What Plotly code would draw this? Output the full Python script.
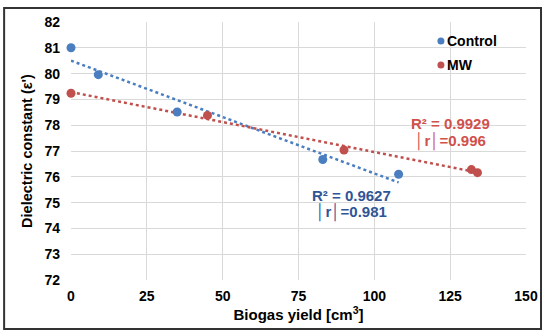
import numpy as np
import plotly.graph_objects as go

# Data
control_x = [0, 9, 35, 83, 108]
control_y = [81.0, 79.96, 78.51, 76.67, 76.10]
mw_x = [0, 45, 90, 132, 134]
mw_y = [79.24, 78.38, 77.04, 76.28, 76.16]

x_ticks = [0, 25, 50, 75, 100, 125, 150]
y_ticks = [72, 73, 74, 75, 76, 77, 78, 79, 80, 81, 82]

series_names = ["Control", "MW"]
control_label = ["R² = 0.9627", "\u2502r\u2502=0.981"]
mw_label = ["R² = 0.9929", "\u2502r\u2502=0.996"]

BLUE = "#4A7EC0"
RED = "#C0504D"
BLUE_TXT = "#2F5597"
RED_TXT = "#D0504C"
FONT = "Liberation Sans, Arial, sans-serif"


def trend(xs, ys):
    k, b = np.polyfit(xs, ys, 1)
    xx = np.array([min(xs), max(xs)], dtype=float)
    return xx, k * xx + b


fig = go.Figure()

cx, cy = trend(control_x, control_y)
mx, my = trend(mw_x, mw_y)

fig.add_trace(go.Scatter(x=cx, y=cy, mode="lines", showlegend=False,
                         line=dict(color=BLUE, width=2.5, dash="dot"), hoverinfo="skip"))
fig.add_trace(go.Scatter(x=mx, y=my, mode="lines", showlegend=False,
                         line=dict(color=RED, width=2.5, dash="dot"), hoverinfo="skip"))
fig.add_trace(go.Scatter(x=control_x, y=control_y, mode="markers", name=series_names[0],
                         showlegend=False, cliponaxis=False,
                         marker=dict(color=BLUE, size=9)))
fig.add_trace(go.Scatter(x=mw_x, y=mw_y, mode="markers", name=series_names[1],
                         showlegend=False, cliponaxis=False,
                         marker=dict(color=RED, size=9)))

# Regression annotations
for (txt, yv) in zip(control_label, [75.27, 74.62]):
    fig.add_annotation(x=92.6, y=yv, text="<b>%s</b>" % txt, showarrow=False,
                       font=dict(family=FONT, size=15, color=BLUE_TXT))
for (txt, yv) in zip(mw_label, [78.07, 77.38]):
    fig.add_annotation(x=125, y=yv, text="<b>%s</b>" % txt, showarrow=False,
                       font=dict(family=FONT, size=15, color=RED_TXT))

# Legend (marker + label), placed like the reference's
for name, col, py in zip(series_names, [BLUE, RED], [0.926, 0.833]):
    fig.add_shape(type="circle", xref="paper", yref="paper",
                  xsizemode="pixel", ysizemode="pixel",
                  xanchor=0.813, yanchor=py, x0=-3.5, x1=3.5, y0=-3.5, y1=3.5,
                  fillcolor=col, line=dict(width=0))
    fig.add_annotation(xref="paper", yref="paper", x=0.822, y=py, xanchor="left",
                       yanchor="middle", text="<b>%s</b>" % name, showarrow=False,
                       font=dict(family=FONT, size=14, color="#000000"))

# Outer frame
fig.add_shape(type="rect", xref="paper", yref="paper",
              x0=-0.147, x1=1.033, y0=-0.19, y1=1.054,
              line=dict(color="#333333", width=2), fillcolor="rgba(0,0,0,0)", layer="below")

fig.update_layout(
    width=550, height=336,
    margin=dict(l=71, r=24, t=22, b=56),
    paper_bgcolor="white", plot_bgcolor="white",
    font=dict(family=FONT, color="#000000"),
    showlegend=False,
    xaxis=dict(range=[0, 150], tickvals=x_ticks, showgrid=True, gridcolor="#D9D9D9",
               zeroline=False, showline=False, ticks="", ticklabelstandoff=6,
               tickfont=dict(family=FONT, size=14, weight="bold"),
               title=dict(text="<b>Biogas yield [cm<sup>3</sup>]</b>",
                          font=dict(family=FONT, size=15), standoff=2)),
    yaxis=dict(range=[72, 82], tickvals=y_ticks, showgrid=True, gridcolor="#D9D9D9",
               zeroline=False, showline=False, ticks="", ticklabelstandoff=10,
               tickfont=dict(family=FONT, size=14, weight="bold"),
               title=dict(text="<b>Dielectric constant (ε')</b>",
                          font=dict(family=FONT, size=14.5), standoff=8)),
)

fig.write_html("out.html", config={"displayModeBar": False},
               post_script="document.body.style.margin='0';")
